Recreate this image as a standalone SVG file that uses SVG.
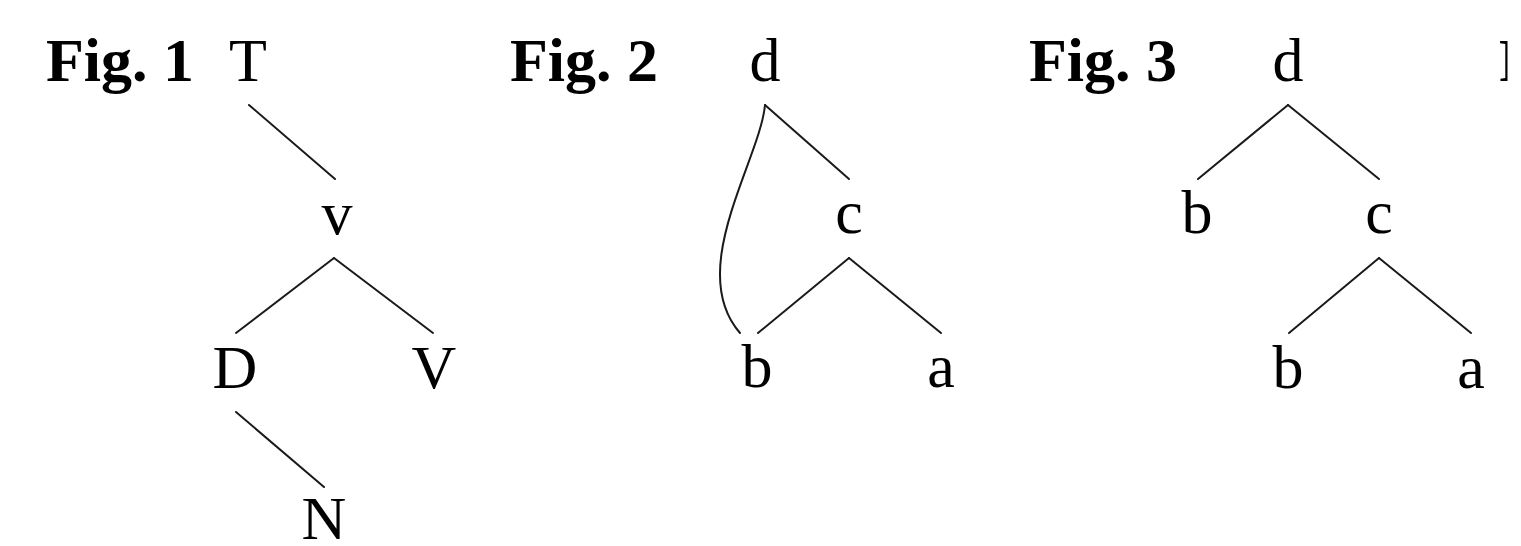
<svg xmlns="http://www.w3.org/2000/svg" width="1521" height="546" viewBox="0 0 1521 546">
<style>
text{font-family:"Liberation Serif","Times New Roman",serif;font-size:62px;fill:#000}
.lab{font-weight:bold}
.n{text-anchor:middle}
.e{stroke:#1a1a1a;stroke-width:2;fill:none;stroke-linecap:round}
</style>
<defs><clipPath id="cut"><rect x="0" y="0" width="1507.5" height="546"/></clipPath></defs>
<rect width="1521" height="546" fill="#fff"/>
<g id="labels">
<text id="fig1" class="lab" x="46" y="81">Fig. 1</text>
<text id="fig2" class="lab" x="510" y="81">Fig. 2</text>
<text id="fig3" class="lab" x="1029" y="81">Fig. 3</text>
<text id="fig4" class="lab" x="1499" y="81" clip-path="url(#cut)">F</text>
</g>
<g id="connectors">
<line class="e" x1="249" y1="105" x2="335" y2="179"/>
<line class="e" x1="334" y1="258" x2="236" y2="333"/>
<line class="e" x1="334" y1="258" x2="433" y2="333"/>
<line class="e" x1="236" y1="412" x2="324" y2="487"/>
<line class="e" x1="765" y1="105" x2="849" y2="179"/>
<path class="e" d="M765 105 C760 160 685 270 740 333"/>
<line class="e" x1="849" y1="258" x2="758" y2="333"/>
<line class="e" x1="849" y1="258" x2="941" y2="333"/>
<line class="e" x1="1288" y1="105" x2="1198" y2="179"/>
<line class="e" x1="1288" y1="105" x2="1379" y2="179"/>
<line class="e" x1="1379" y1="258" x2="1289" y2="333"/>
<line class="e" x1="1379" y1="258" x2="1471" y2="333"/>
</g>
<g id="f1-T"><text class="n" x="248" y="81">T</text></g>
<g id="f1-v"><text class="n" x="337" y="234">v</text></g>
<g id="f1-D"><text class="n" x="235" y="388">D</text></g>
<g id="f1-V"><text class="n" x="434" y="388">V</text></g>
<g id="f1-N"><text class="n" x="324" y="539">N</text></g>
<g id="f2-d"><text class="n" x="765" y="81">d</text></g>
<g id="f2-c"><text class="n" x="849" y="233">c</text></g>
<g id="f2-b"><text class="n" x="757" y="387">b</text></g>
<g id="f2-a"><text class="n" x="941" y="387">a</text></g>
<g id="f3-d"><text class="n" x="1288" y="81">d</text></g>
<g id="f3-b1"><text class="n" x="1197" y="233">b</text></g>
<g id="f3-c"><text class="n" x="1379" y="233">c</text></g>
<g id="f3-b2"><text class="n" x="1288" y="388">b</text></g>
<g id="f3-a"><text class="n" x="1471" y="388">a</text></g>
</svg>
